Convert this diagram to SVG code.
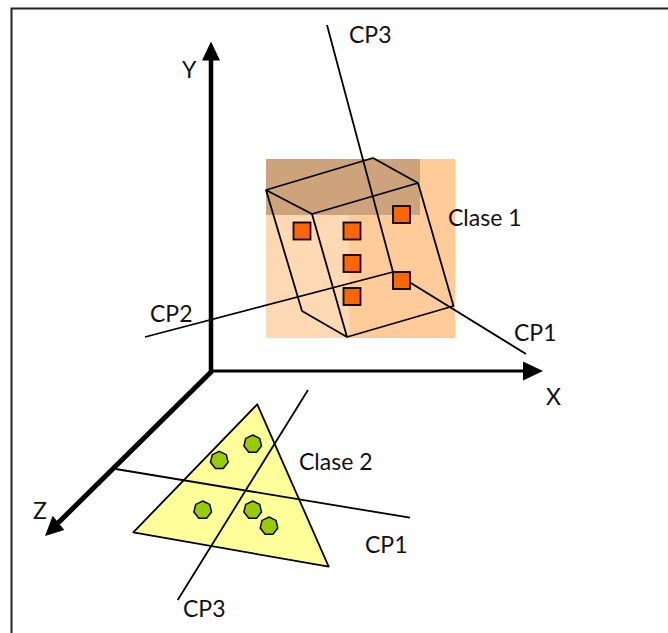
<svg xmlns="http://www.w3.org/2000/svg" width="668" height="633" viewBox="0 0 668 633">
<style>
.t{font-family:"Lato","Liberation Sans",sans-serif;font-size:23px;fill:#111}
.l{fill:none;stroke:#000;stroke-width:1.8;stroke-linejoin:round}
.sq{fill:#FF6600;stroke:#000;stroke-width:1.8}
.hp{fill:#99CC00;stroke:#000;stroke-width:1.5}
</style>
<rect width="668" height="633" fill="#fff"/>
<path id="frame" d="M11.500 633V8.500H668" fill="none" stroke="#222" stroke-width="2"/>
<g id="class1">
<rect x="266" y="159" width="189" height="179" fill="#FFCC99"/>
<rect x="266" y="215" width="83" height="123" fill="#FFD9B3"/>
<rect x="266" y="159" width="154" height="56" fill="#CCA37A"/>
<path class="l" d="M266 190L373 158L418 183L312 214ZM266 190L302 311L347 337L312 214M418 183L453.500 306L347 337"/>
<text class="t" x="448" y="226">Clase 1</text>
</g>
<g id="class2">
<path d="M257.300 404.300L133.300 532.300L328.700 566.700Z" fill="#FFFF99" stroke="#000" stroke-width="1.800" stroke-linejoin="round"/>
<text class="t" x="299" y="470">Clase 2</text>
</g>
<g id="connectors">
<path class="l" d="M327 25L393 272M145 337L393 272L526 354"/>
<path class="l" d="M115.700 469L410 517.700M308 390L177.700 600"/>
<path d="M211 372V58" fill="none" stroke="#000" stroke-width="4.500"/>
<path d="M209 371H526" fill="none" stroke="#000" stroke-width="3"/>
<path d="M212 371L58 523" fill="none" stroke="#000" stroke-width="5"/>
<polygon points="211,41.500 202,60.500 220,60.500"/>
<polygon points="543,371 523,361.500 523,380.500"/>
<polygon points="45,536 64.300,530 52.700,515.700"/>
</g>
<g id="class1-points">
<rect class="sq" x="293.500" y="222.500" width="17" height="17"/>
<rect class="sq" x="343.500" y="222.500" width="17" height="17"/>
<rect class="sq" x="393" y="206" width="17" height="17"/>
<rect class="sq" x="343.500" y="255" width="17" height="17"/>
<rect class="sq" x="343.500" y="288" width="17" height="17"/>
<rect class="sq" x="393" y="272" width="17" height="17"/>
</g>
<g id="class2-points">
<polygon class="hp" points="252.700,435 259.700,438.400 261.500,446 256.600,452.200 248.800,452.200 243.900,446 245.700,438.400"/>
<polygon class="hp" points="219.300,451.300 226.300,454.700 228.100,462.300 223.200,468.500 215.400,468.500 210.500,462.300 212.300,454.700"/>
<polygon class="hp" points="202.700,501 209.700,504.400 211.500,512 206.600,518.200 198.800,518.200 193.900,512 195.700,504.400"/>
<polygon class="hp" points="252.700,501 259.700,504.400 261.500,512 256.600,518.200 248.800,518.200 243.900,512 245.700,504.400"/>
<polygon class="hp" points="269,517 276,520.400 277.800,528 272.900,534.200 265.100,534.200 260.200,528 262,520.400"/>
</g>
<g id="labels">
<text class="t" x="349" y="43">CP3</text>
<text class="t" x="182" y="78">Y</text>
<text class="t" x="150" y="322">CP2</text>
<text class="t" x="514" y="341">CP1</text>
<text class="t" x="546" y="405">X</text>
<text class="t" x="33" y="519">Z</text>
<text class="t" x="365" y="553">CP1</text>
<text class="t" x="183" y="617">CP3</text>
</g>
</svg>
